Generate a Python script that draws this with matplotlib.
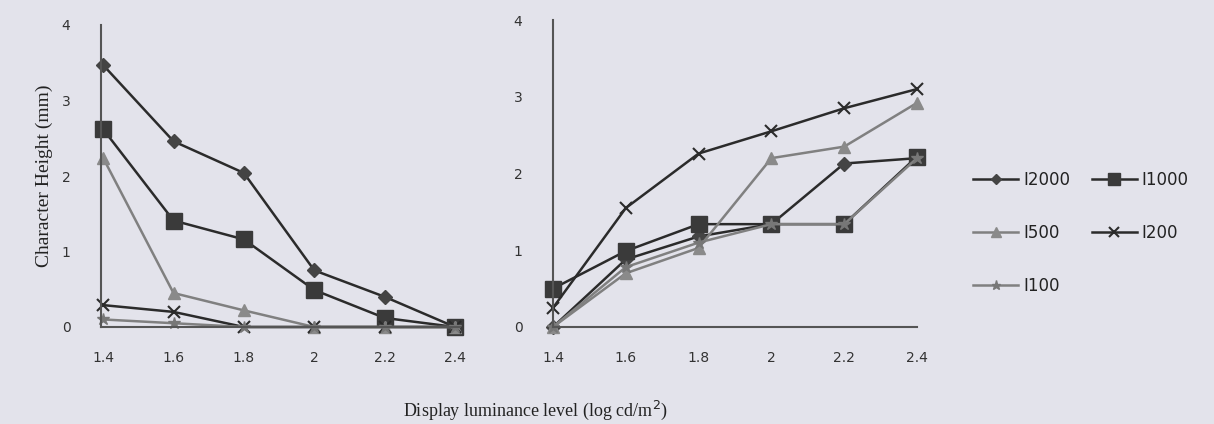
import matplotlib
matplotlib.use("Agg")
import matplotlib.pyplot as plt

categories = ["1.4", "1.6", "1.8", "2", "2.2", "2.4"]
series_names = ["I2000", "I1000", "I500", "I200", "I100"]

left_I2000 = [3.47, 2.46, 2.04, 0.75, 0.40, 0.0]
left_I1000 = [2.62, 1.41, 1.16, 0.49, 0.12, 0.0]
left_I500 = [2.24, 0.45, 0.22, 0.0, 0.0, 0.0]
left_I200 = [0.29, 0.20, 0.0, 0.0, 0.0, 0.0]
left_I100 = [0.10, 0.05, 0.0, 0.0, 0.0, 0.0]

right_I2000 = [0.0, 0.88, 1.18, 1.34, 2.13, 2.20]
right_I1000 = [0.50, 0.99, 1.34, 1.34, 1.34, 2.22]
right_I500 = [0.0, 0.70, 1.03, 2.20, 2.35, 2.92]
right_I200 = [0.25, 1.55, 2.26, 2.55, 2.85, 3.10]
right_I100 = [0.0, 0.78, 1.10, 1.34, 1.34, 2.20]

y_ticks = [0, 1, 2, 3, 4]

dark = "#2b2b2b"
grey = "#808080"
styles = {
    "I2000": dict(color=dark, marker="D", markersize=7, markerfacecolor="#444444", markeredgecolor="#444444"),
    "I1000": dict(color=dark, marker="s", markersize=11, markerfacecolor="#3a3a3a", markeredgecolor="#3a3a3a"),
    "I500": dict(color=grey, marker="^", markersize=9, markerfacecolor="#8a8a8a", markeredgecolor="#8a8a8a"),
    "I200": dict(color=dark, marker="x", markersize=9, markeredgewidth=1.5),
    "I100": dict(color=grey, marker="*", markersize=9, markerfacecolor="#777777", markeredgecolor="#777777"),
}

bg = "#e3e3eb"
W, H = 1214, 424
fig = plt.figure(figsize=(W / 100, H / 100), dpi=100, facecolor=bg)

def px_axes(x0, x1, ytop, ybot):
    return [x0 / W, 1 - ybot / H, (x1 - x0) / W, (ybot - ytop) / H]

ax1 = fig.add_axes(px_axes(101, 460, 25, 327))
ax2 = fig.add_axes(px_axes(553, 917, 20, 327))

x = list(range(len(categories)))
left = [left_I2000, left_I1000, left_I500, left_I200, left_I100]
right = [right_I2000, right_I1000, right_I500, right_I200, right_I100]

handles = {}
for ax, data, xl in [(ax1, left, (-0.03, 5.07)), (ax2, right, (0.0, 5.0))]:
    ax.set_facecolor("none")
    for name, vals in zip(series_names, data):
        ln, = ax.plot(x, vals, linewidth=1.8, label=name, **styles[name], clip_on=False)
        if ax is ax1:
            handles[name] = ln
    ax.set_xlim(*xl)
    ax.set_ylim(0, 4)
    ax.set_xticks(x)
    ax.set_xticklabels(categories)
    ax.set_yticks(y_ticks)
    for s in ["top", "right"]:
        ax.spines[s].set_visible(False)
    for s in ["left", "bottom"]:
        ax.spines[s].set_color("#555555")
        ax.spines[s].set_linewidth(1.5)
    ax.tick_params(axis="both", length=0, labelsize=10, colors="#333333")
    ax.tick_params(axis="x", pad=17)
    ax.tick_params(axis="y", pad=22)

ax1.set_ylabel("Character Height (mm)", family="Liberation Serif", fontsize=14, color="#222222", labelpad=6)
fig.text(535 / W, 1 - 410 / H, "Display luminance level (log cd/m$^2$)", ha="center", va="center",
         family="Liberation Serif", fontsize=13, color="#222222")

legend_order = ["I2000", "I500", "I100", "I1000", "I200"]
fig.legend(handles=[handles[n] for n in legend_order], labels=legend_order, ncol=2, loc="upper left",
           bbox_to_anchor=(958 / W, 1 - 156 / H), frameon=False, fontsize=12, markerscale=0.75,
           handlelength=2.7, handletextpad=0.3, labelspacing=2.1, columnspacing=1.3,
           labelcolor="#222222")

fig.savefig("out.png", dpi=100, facecolor=bg)
